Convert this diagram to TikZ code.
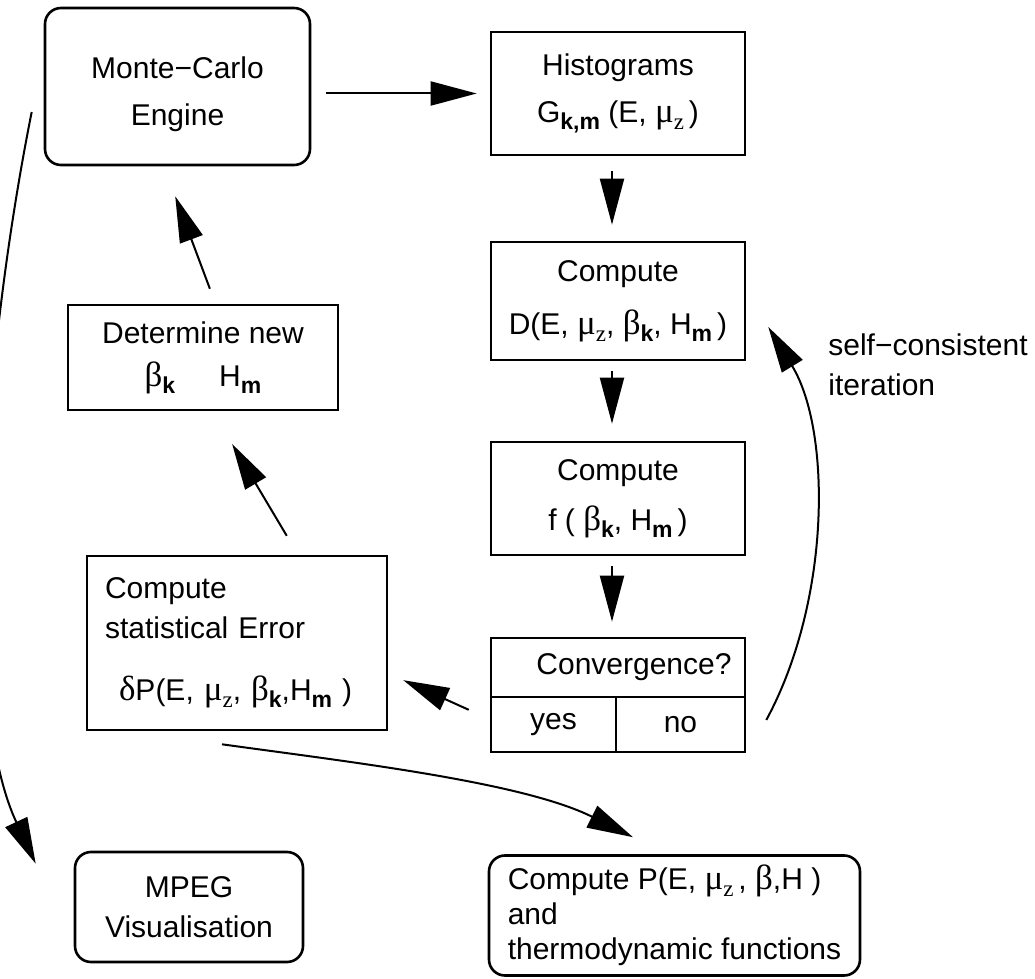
\documentclass[tikz,border=0pt]{standalone}
\usepackage{fontspec}
\setmainfont{Liberation Sans}
\newfontfamily\grk{Liberation Serif}
\usetikzlibrary{arrows.meta,calc}

\newcommand{\sublo}[1]{\raisebox{-3.5pt}{\fontsize{11.5}{12}\selectfont #1}}
\newcommand{\gr}[1]{{\grk\fontsize{17.5}{20}\selectfont #1}}
\newcommand{\mz}{\gr{μ}\sublo{\grk z}}
\newcommand{\bk}{\gr{β}\sublo{\bfseries k}}
\newcommand{\hm}{H\sublo{\bfseries m}}

\tikzset{
  box/.style={draw, line width=1.3pt, align=center, inner sep=0pt},
  rbox/.style={box, rounded corners=8pt},
  arr/.style={-{Triangle[length=23pt,width=12pt]}, line width=1pt},
}

\begin{document}
\begin{tikzpicture}[x=0.5pt,y=-0.5pt,font=\fontsize{15}{20}\selectfont]
\useasboundingbox (0,0) rectangle (1035,979);

\node[rbox, minimum width=132.5pt, minimum height=78.5pt] (mc) at (177.5,86.5) {\rule{0pt}{19pt}Monte−Carlo\\[3.5pt]Engine};
\node[box, minimum width=127pt, minimum height=61.5pt] (hist) at (618,93.5) {Histograms\\[3.5pt]G\sublo{\bfseries k,m} (E, \mz\,)};
\node[box, minimum width=127pt, minimum height=59pt] (compD) at (618,301) {Compute\\[6.5pt]D(E, \mz, \bk , \hm\,)};
\node[box, minimum width=127pt, minimum height=56.5pt] (compF) at (618,498.5) {Compute\\[5pt]f ( \bk, \hm\,)};
\node[box, minimum width=127pt, minimum height=29.5pt] (conv) at (618,667.5) {\hspace*{16pt}Convergence?};
\node[box, minimum width=62.5pt, minimum height=27.5pt] (yes) at (553.5,724.5) {yes};
\node[box, minimum width=64.5pt, minimum height=27.5pt] (no) at (680.5,724.5) {no};

\node[box, minimum width=135pt, minimum height=52.5pt] (det) at (203,357.5) {Determine new\\[1.5pt]\bk\hspace{22pt}\hm};
\node[box, minimum width=150pt, minimum height=87pt, align=left, text width=132pt] (err) at (237,643)
  {Compute\\statistical Error\\[11pt]\hspace*{7pt}\gr{δ}P(E, \mz, \bk ,\hm\ )};

\node[rbox, minimum width=114pt, minimum height=55pt] (mpeg) at (189,907) {MPEG\\Visualisation};
\node[rbox, minimum width=185.5pt, minimum height=60pt, align=left, font=\fontsize{15}{17.5}\selectfont] (compP) at (674.5,915.5)
  {Compute P(E, \mz\,, \gr{β},H )\\and\\thermodynamic functions};

\node[anchor=west, align=left, inner sep=0pt] (selfc) at (828,365) {self−consistent\\iteration};

% main loop
\draw[arr, shorten <=7.5pt, shorten >=6.5pt] (mc.east |- hist.west) -- (hist.west);
\draw[arr, shorten <=7.5pt, shorten >=8pt] ([xshift=-3pt]hist.south) -- ([xshift=-3pt]compD.north);
\draw[arr, shorten <=5pt, shorten >=8.5pt] ([xshift=-3pt]compD.south) -- ([xshift=-3pt]compF.north);
\draw[arr, shorten <=5pt, shorten >=7.5pt] ([xshift=-3pt]compF.south) -- ([xshift=-3pt]conv.north);

\draw[arr] ($(no.east)+(20,-4.5)$) .. controls +(65,-120) and +(63,103) .. ($(compD.east)+(22,26)$);

\draw[arr, shorten <=11.5pt, shorten >=8.2pt] ($(yes.west)+(0,-5.2)$) -- ($(err.east)+(0,30.4)$);
\draw[arr, shorten <=11pt, shorten >=19pt] ($(err.north)+(61,0)$) -- ($(det.south)+(9.7,0)$);
\draw[arr, shorten <=8pt, shorten >=16pt] ($(det.north)+(12.5,0)$) -- ($(mc.south)+(-13.5,0)$);

% outputs
\draw[arr] ($(mc.west)+(-12,25.5)$) .. controls +(-50,250) and +(-77,-165) .. ($(mpeg.north west)+(-38,13)$);
\draw[arr] ($(err.south)+(-15,13)$) .. controls +(130,18) and +(-110,-55) .. ($(compP.north)+(-41.5,-17)$);
\end{tikzpicture}
\end{document}
